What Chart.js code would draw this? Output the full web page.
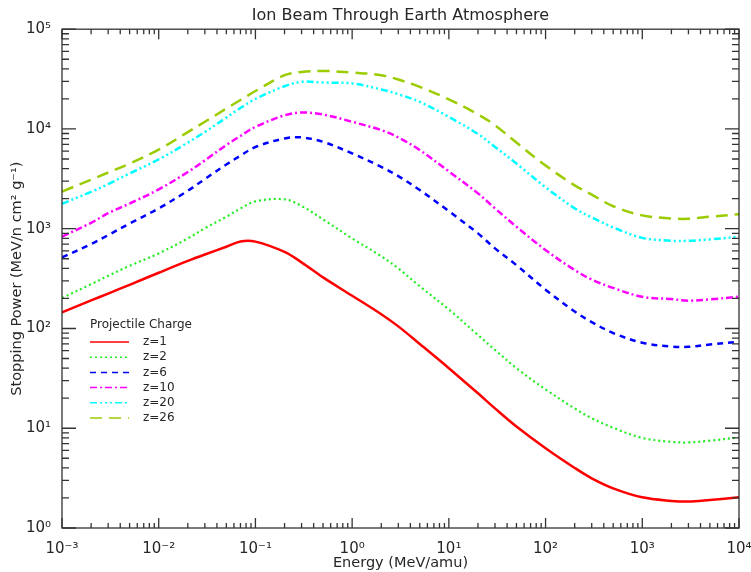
<!DOCTYPE html>
<html>
<head>
<meta charset="utf-8">
<script src="https://cdn.jsdelivr.net/npm/chart.js@4.4.1/dist/chart.umd.min.js"></script>
<style>
  html, body { margin: 0; padding: 0; background: #fff; }
</style>
</head>
<body>
<canvas id="myChart" width="751" height="572"></canvas>
<script>
const energy = [1e-3, 2e-3, 3e-3, 5e-3, 1e-2, 2e-2, 3e-2, 5e-2, 0.07, 0.1, 0.2, 0.3, 0.5,
  1, 2, 3, 5, 10, 20, 30, 50, 100, 200, 300, 500, 1000, 2000, 3000, 5000, 10000];

// stopping power (MeV/n cm2 g-1) per projectile charge
const z1  = [145, 191, 224, 274, 362, 476, 552, 659, 745, 742, 585, 460, 325,
  213, 139, 105, 70, 40, 22.4, 15.8, 10.4, 6.3, 4.0, 3.15, 2.5, 2.03, 1.87, 1.84, 1.91, 2.03];
const z2  = [202, 278, 337, 425, 566, 800, 1010, 1318, 1597, 1880, 1970, 1690, 1240,
  800, 530, 400, 265, 155, 86, 61, 40, 24.5, 15.8, 12.6, 10.1, 8.0, 7.3, 7.2, 7.5, 8.1];
const z6  = [515, 701, 863, 1127, 1600, 2400, 3150, 4400, 5400, 6600, 8030, 8230, 7430,
  5680, 4170, 3370, 2440, 1500, 898, 635, 431, 245, 148, 116, 90, 72, 66, 65.6, 69, 73.6];
const z10 = [835, 1145, 1430, 1790, 2480, 3700, 4850, 6900, 8500, 10500, 13700, 14600, 13960,
  11800, 9730, 8220, 6140, 3750, 2260, 1600, 1045, 611, 385, 310, 255, 208, 197, 190, 196, 208];
const z20 = [1780, 2340, 2800, 3580, 4950, 7300, 9300, 13000, 16200, 20000, 26800, 29700, 29200,
  28600, 24900, 22300, 18700, 13200, 8900, 6600, 4500, 2600, 1600, 1300, 1030, 810, 757, 757, 781, 830];
const z26 = [2360, 3100, 3660, 4500, 6200, 9300, 11800, 16000, 19500, 24000, 34600, 37300, 38200,
  36800, 34600, 31300, 26400, 19800, 14000, 10900, 7300, 4300, 2720, 2200, 1680, 1360, 1268, 1258, 1318, 1400];

const chargeLabels = ['z=1', 'z=2', 'z=6', 'z=10', 'z=20', 'z=26'];
const xTickLabels = ['10⁻³', '10⁻²', '10⁻¹', '10⁰', '10¹', '10²', '10³', '10⁴'];
const yTickLabels = ['10⁰', '10¹', '10²', '10³', '10⁴', '10⁵'];

const series = [z1, z2, z6, z10, z20, z26];
const colors = ['#ff0000', '#22ee22', '#0000ff', '#ff00ff', '#00ffff', '#9bcc00'];
const dashes = [[], [2, 3], [6, 5], [7, 3, 2, 3], [7, 3, 2, 3, 2, 3, 2, 3], [12, 7]];
const widths = [2.5, 2.2, 2.5, 2.5, 2.5, 2.5];

const TEXT = '#262626';
const FONT = 'DejaVu Sans';

function isDecade(v) {
  const l = Math.log10(v);
  return Math.abs(l - Math.round(l)) < 1e-9;
}

// 1..9 x 10^n ticks so the minor marks sit where the library puts each value
function logTicks(scale) {
  const e0 = Math.round(Math.log10(scale.min));
  const e1 = Math.round(Math.log10(scale.max));
  const t = [];
  for (let e = e0; e < e1; e++) {
    for (let k = 1; k <= 9; k++) t.push({ value: k * Math.pow(10, e) });
  }
  t.push({ value: Math.pow(10, e1) });
  scale.ticks = t;
}

// frame with inward tick marks on all four sides
const frameTicks = {
  id: 'frameTicks',
  afterDatasetsDraw(chart) {
    const { ctx, chartArea: a, scales: { x, y } } = chart;
    ctx.save();
    ctx.strokeStyle = '#333';
    ctx.lineWidth = 1.3;
    ctx.strokeRect(a.left, a.top, a.right - a.left, a.bottom - a.top);
    ctx.beginPath();
    x.ticks.forEach(t => {
      const px = x.getPixelForValue(t.value);
      const len = isDecade(t.value) ? 10 : 5;
      ctx.moveTo(px, a.bottom); ctx.lineTo(px, a.bottom - len);
      ctx.moveTo(px, a.top); ctx.lineTo(px, a.top + len);
    });
    y.ticks.forEach(t => {
      const py = y.getPixelForValue(t.value);
      const len = isDecade(t.value) ? 14 : 7;
      ctx.moveTo(a.left, py); ctx.lineTo(a.left + len, py);
      ctx.moveTo(a.right, py); ctx.lineTo(a.right - len, py);
    });
    ctx.stroke();
    ctx.restore();
  }
};

// legend box inside the plot, lower left
const chargeLegend = {
  id: 'chargeLegend',
  afterDraw(chart) {
    const { ctx } = chart;
    const x0 = 90, y0 = 325, row = 15.2;
    ctx.save();
    ctx.fillStyle = TEXT;
    ctx.font = '12px "' + FONT + '"';
    ctx.textBaseline = 'middle';
    ctx.fillText('Projectile Charge', x0, y0);
    chart.data.datasets.forEach((ds, i) => {
      const yy = y0 + 17 + i * row;
      ctx.strokeStyle = ds.borderColor;
      ctx.lineWidth = 1.5;
      ctx.setLineDash(ds.borderDash);
      ctx.beginPath();
      ctx.moveTo(x0, yy);
      ctx.lineTo(x0 + 39, yy);
      ctx.stroke();
      ctx.setLineDash([]);
      ctx.fillText(ds.label, x0 + 53, yy);
    });
    ctx.restore();
  }
};

const ctx = document.getElementById('myChart');

new Chart(ctx, {
  type: 'line',
  data: {
    labels: energy,
    datasets: series.map((s, i) => ({
      label: chargeLabels[i],
      data: s.map((v, j) => ({ x: energy[j], y: v })),
      borderColor: colors[i],
      borderDash: dashes[i],
      borderWidth: widths[i],
      pointRadius: 0,
      fill: false,
      tension: 0.35
    }))
  },
  options: {
    responsive: false,
    animation: false,
    devicePixelRatio: 1,
    layout: { padding: { left: 0, right: 12, top: 0, bottom: 0 } },
    plugins: {
      legend: { display: false },
      tooltip: { enabled: false },
      title: {
        display: true,
        fullSize: false,
        text: 'Ion Beam Through Earth Atmosphere',
        color: TEXT,
        font: { family: FONT, size: 16, weight: 'normal' },
        padding: { top: 6, bottom: 4 }
      }
    },
    scales: {
      x: {
        type: 'logarithmic',
        min: 1e-3,
        max: 1e4,
        grid: { display: false },
        border: { display: false },
        afterBuildTicks: logTicks,
        afterFit(scale) { scale.height = 44; scale.paddingLeft = 0; scale.paddingRight = 0; },
        ticks: {
          autoSkip: false,
          maxRotation: 0,
          padding: 4,
          color: TEXT,
          font: { family: FONT, size: 15 },
          callback: v => isDecade(v) ? xTickLabels[Math.round(Math.log10(v)) + 3] : ''
        },
        title: {
          display: true,
          text: 'Energy (MeV/amu)',
          color: TEXT,
          font: { family: FONT, size: 14.5 },
          padding: { top: 0, bottom: 0 }
        }
      },
      y: {
        type: 'logarithmic',
        min: 1,
        max: 1e5,
        grid: { display: false },
        border: { display: false },
        afterBuildTicks: logTicks,
        afterFit(scale) { scale.width = 62; scale.paddingTop = 0; scale.paddingBottom = 0; },
        ticks: {
          autoSkip: false,
          padding: 3,
          color: TEXT,
          font: { family: FONT, size: 15 },
          callback: v => isDecade(v) ? yTickLabels[Math.round(Math.log10(v))] : ''
        },
        title: {
          display: true,
          text: 'Stopping Power (MeV/n cm² g⁻¹)',
          color: TEXT,
          font: { family: FONT, size: 14.5 },
          padding: { top: 9, bottom: 0 }
        }
      }
    }
  },
  plugins: [frameTicks, chargeLegend]
});
</script>
</body>
</html>
